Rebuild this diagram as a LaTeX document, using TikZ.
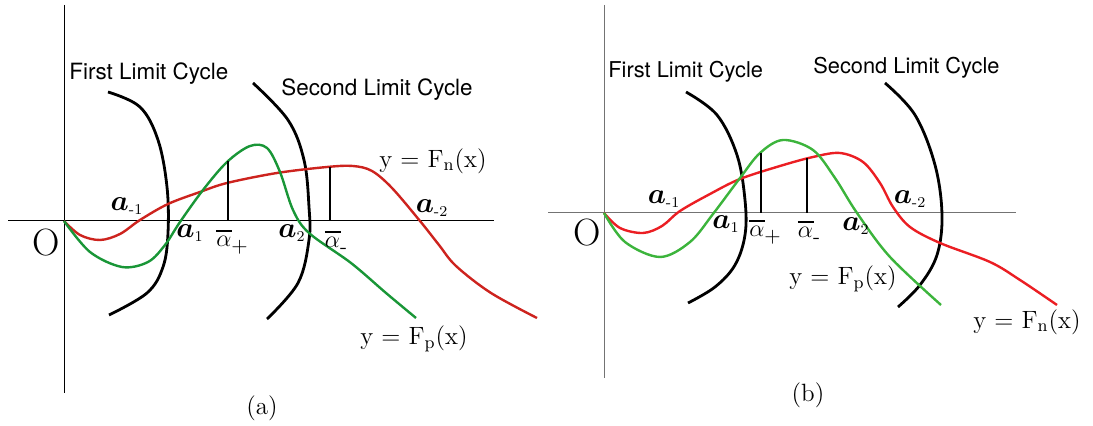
\documentclass[tikz,border=0pt]{standalone}
\usepackage{amsmath,amssymb}
\usepackage{fontspec}
\newfontfamily\heros{TeX Gyre Heros}
\usepackage{tikz}
\usetikzlibrary{positioning,calc}

\definecolor{redA}{RGB}{205,35,30}
\definecolor{greenA}{RGB}{25,150,55}
\definecolor{redB}{RGB}{235,30,35}
\definecolor{greenB}{RGB}{60,180,60}

\tikzset{
  axis/.style={line width=0.5pt},
  cycle/.style={line width=1.4pt, black},
  curve/.style={line width=1.2pt},
  mark line/.style={line width=0.6pt},
  cyclelabel/.style={font=\heros\fontsize{11.2}{13}\selectfont, inner sep=0pt},
  fnlabel/.style={font=\fontsize{12.5}{14}\selectfont, inner sep=0pt},
  ptlabel/.style={font=\fontsize{15}{17}\selectfont, inner sep=0pt},
  allabel/.style={font=\fontsize{13}{15}\selectfont, inner sep=0pt},
  origin/.style={font=\fontsize{19}{21}\selectfont, inner sep=0pt},
}
\newcommand{\apt}[1]{$\boldsymbol{a}_{\scriptscriptstyle\text{#1}}$}
\newcommand{\alb}[1]{\rlap{\rule[1.3ex]{0.6em}{1.1pt}}$\alpha$\raisebox{-0.55ex}{\fontsize{10.5}{12}\selectfont #1}}
\newcommand{\yF}[1]{y = F$_{\mathrm{#1}}$(x)}

\begin{document}
\begin{tikzpicture}[x=0.5pt, y=-0.5pt]
\useasboundingbox (0,0) rectangle (1093,426);

% ---------- panel (a) ----------
\coordinate (oA) at (64,221);
\draw[axis] (64,5) -- (64,393);
\draw[axis] (8,221) -- (494,221);
\node[origin] (originA) at (46,243) {O};

% limit cycles
\draw[cycle] plot[smooth, tension=0.6] coordinates {(108,92) (140,107) (158,140) (167,187) (168,233) (163,267) (147,293) (109,315)};
\draw[cycle] plot[smooth, tension=0.6] coordinates {(253,83) (288,120) (304,160) (309,207) (309,240) (298,283) (267,319)};
\node[cyclelabel, anchor=west] (firstA) at (69,74) {First Limit Cycle};
\node[cyclelabel, anchor=west] (secondA) at (281,90) {Second Limit Cycle};

% curves
\draw[curve, redA] plot[smooth, tension=0.55] coordinates {(64,221) (80,235) (100,240) (120,234) (140,220) (168,204) (200,192) (227,183) (277,173) (327,167) (353,166) (372,171) (392,188) (420,221) (439,245) (456,266) (491,293) (537,318)};
\draw[curve, greenA] plot[smooth, tension=0.55] coordinates {(64,221) (90,252) (122,267) (148,262) (165,245) (180,222) (203,190) (227,162) (250,146) (267,148) (280,172) (293,210) (309,233) (351,263) (386,293) (416,318)};

% marks
\draw[mark line] (228,221) -- (228,161);
\draw[mark line] (330,221) -- (330,167);

% labels
\node[ptlabel] (am1A) at (127,206) {\apt{-1}};
\node[ptlabel] (a1A) at (190,233) {\apt{1}};
\node[allabel] (alpA) at (232,242) {\alb{+}};
\node[ptlabel] (a2A) at (292,233) {\apt{2}};
\node[allabel] (almA) at (336,242) {\alb{-}};
\node[ptlabel] (am2A) at (432,208) {\apt{-2}};
\node[fnlabel] (fnA) at (433,161) {\yF{n}};
\node[fnlabel] (fpA) at (414,339) {\yF{p}};
\node[font=\fontsize{12.5}{14}\selectfont] (capA) at (262,408) {(a)};

% ---------- panel (b) ----------
\coordinate (oB) at (604,213);
\draw[axis, black!55] (604,5) -- (604,378);
\draw[axis, black!55] (548,213) -- (1016,213);
\node[origin] (originB) at (587,233) {O};

% limit cycles
\draw[cycle] plot[smooth, tension=0.6] coordinates {(686,92) (717,115) (737,155) (745,200) (745,235) (735,265) (715,287) (688,303)};
\draw[cycle] plot[smooth, tension=0.6] coordinates {(885,83) (915,115) (935,165) (942,215) (937,255) (920,285) (898,307)};
\node[cyclelabel, anchor=west, font=\heros\fontsize{10.9}{13}\selectfont] (firstB) at (608,72) {First Limit Cycle};
\node[cyclelabel, anchor=west, font=\heros\fontsize{10.9}{13}\selectfont] (secondB) at (813,68) {Second Limit Cycle};

% curves
\draw[curve, redB] plot[smooth, tension=0.55] coordinates {(604,213) (620,228) (643,233) (662,226) (680,211) (710,194) (740,179) (780,166) (813,157) (840,153) (863,162) (880,183) (893,207) (910,227) (940,243) (990,262) (1020,280) (1057,305)};
\draw[curve, greenB] plot[smooth, tension=0.55] coordinates {(604,213) (625,242) (660,257) (690,242) (713,214) (740,178) (760,153) (783,140) (813,150) (835,178) (857,213) (890,257) (941,305)};

% marks
\draw[mark line] (761,213) -- (761,153);
\draw[mark line] (807,213) -- (807,158);

% labels
\node[ptlabel] (am1B) at (664,199) {\apt{-1}};
\node[ptlabel] (a1B) at (726,224) {\apt{1}};
\node[allabel] (alpB) at (765,232) {\alb{+}};
\node[allabel] (almB) at (809,232) {\alb{-}};
\node[ptlabel] (a2B) at (856,226) {\apt{2}};
\node[ptlabel] (am2B) at (910,199) {\apt{-2}};
\node[fnlabel] (fpB) at (843,279) {\yF{p}};
\node[fnlabel] (fnB) at (1027,322) {\yF{n}};
\node[font=\fontsize{12.5}{14}\selectfont] (capB) at (808,395) {(b)};
\end{tikzpicture}
\end{document}
